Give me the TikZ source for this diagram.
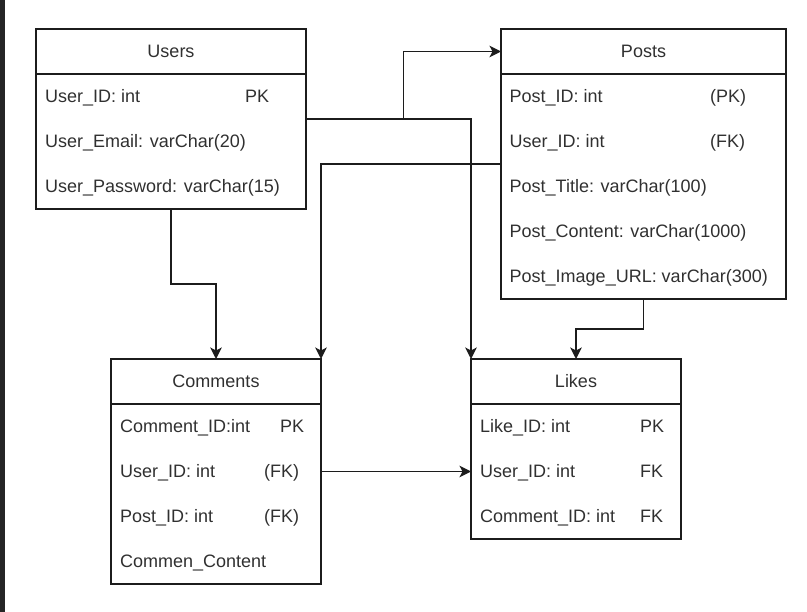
\documentclass[tikz,border=0pt]{standalone}
\usepackage{fontspec}
\setmainfont{Liberation Sans}
\usetikzlibrary{positioning,calc,arrows.meta}

\definecolor{linegray}{RGB}{28,28,28}
\definecolor{textgray}{RGB}{48,48,48}
\definecolor{sidebar}{RGB}{37,37,38}

\begin{document}
\begin{tikzpicture}[x=1pt,y=1pt,
font=\fontsize{18}{21}\selectfont,
table/.style={draw=linegray,line width=1.4pt,rectangle,outer sep=0pt,anchor=north west},
head/.style={draw=linegray,line width=1.4pt,rectangle,outer sep=0pt,minimum height=45pt,anchor=north,text=textgray},
field/.style={anchor=west,inner sep=0pt,text height=13pt,text depth=0pt,text=textgray},
link/.style={draw=linegray,line width=1.4pt,-{Stealth[length=11.5pt,width=11.5pt,inset=3pt]}}]
\useasboundingbox (0,0) rectangle (807,-612);
\fill[sidebar] (0,0) rectangle (5,-612);

% Users
\node (users) [table,minimum width=270pt,minimum height=180pt] at (36,-29) {};
\node (users head) [head,minimum width=270pt] at (users.north) {Users};
\node (users id) [field] at ($(users head.south west)+(9,-22.5)$) {User\_ID: int};
\node (users pk) [field] at ($(users id.west)+(200,0)$) {PK};
\node (users email) [field] at ($(users id.west)+(0,-45)$) {User\_Email: varChar(20)};
\node (users pass) [field] at ($(users email.west)+(0,-45)$) {User\_Password: varChar(15)};

% Posts
\node (posts) [table,minimum width=285pt,minimum height=270pt] at (501,-29) {};
\node (posts head) [head,minimum width=285pt] at (posts.north) {Posts};
\node (posts id) [field] at ($(posts head.south west)+(8.5,-22.5)$) {Post\_ID: int};
\node (posts pk) [field] at ($(posts id.west)+(200.5,0)$) {(PK)};
\node (posts user) [field] at ($(posts id.west)+(0,-45)$) {User\_ID: int};
\node (posts fk) [field] at ($(posts user.west)+(200.5,0)$) {(FK)};
\node (posts title) [field] at ($(posts user.west)+(0,-45)$) {Post\_Title: varChar(100)};
\node (posts content) [field] at ($(posts title.west)+(0,-45)$) {Post\_Content: varChar(1000)};
\node (posts image) [field] at ($(posts content.west)+(0,-45)$) {Post\_Image\_URL: varChar(300)};

% Comments
\node (comments) [table,minimum width=210pt,minimum height=225pt] at (111,-359) {};
\node (comments head) [head,minimum width=210pt] at (comments.north) {Comments};
\node (comments id) [field] at ($(comments head.south west)+(9,-22.5)$) {Comment\_ID:int};
\node (comments pk) [field] at ($(comments id.west)+(160,0)$) {PK};
\node (comments user) [field] at ($(comments id.west)+(0,-45)$) {User\_ID: int};
\node (comments fk1) [field] at ($(comments user.west)+(144,0)$) {(FK)};
\node (comments post) [field] at ($(comments user.west)+(0,-45)$) {Post\_ID: int};
\node (comments fk2) [field] at ($(comments post.west)+(144,0)$) {(FK)};
\node (comments text) [field] at ($(comments post.west)+(0,-45)$) {Commen\_Content};

% Likes
\node (likes) [table,minimum width=210pt,minimum height=180pt] at (471,-359) {};
\node (likes head) [head,minimum width=210pt] at (likes.north) {Likes};
\node (likes id) [field] at ($(likes head.south west)+(9,-22.5)$) {Like\_ID: int};
\node (likes pk) [field] at ($(likes id.west)+(160,0)$) {PK};
\node (likes user) [field] at ($(likes id.west)+(0,-45)$) {User\_ID: int};
\node (likes fk1) [field] at ($(likes user.west)+(160,0)$) {FK};
\node (likes comment) [field] at ($(likes user.west)+(0,-45)$) {Comment\_ID: int};
\node (likes fk2) [field] at ($(likes comment.west)+(160,0)$) {FK};

% relations
\coordinate (split) at ($(users.east)!0.5!(posts.west |- users.east)$);
\draw[link] (users.east) -| (likes.north west);
\draw[link] (split) |- (posts head.west);
\draw[link] (posts.west) -| (comments.north east);
\draw[link] (users.south) |- ($(users.south)!0.5!(comments.north)$) -| (comments.north);
\draw[link] (posts.south) |- ($(posts.south)!0.5!(likes.north)$) -| (likes.north);
\draw[link] (comments.east) -- (comments.east -| likes.west);
\end{tikzpicture}
\end{document}
